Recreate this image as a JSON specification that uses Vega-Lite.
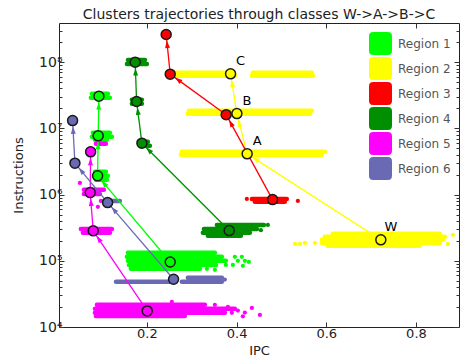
{
  "$schema": "https://vega.github.io/schema/vega-lite/v6.json",
  "width": 400,
  "height": 304,
  "autosize": {"type": "none"},
  "padding": {"left": 59, "top": 23, "right": 3, "bottom": 37},
  "title": {
    "text": "Clusters trajectories through classes W->A->B->C",
    "fontSize": 14,
    "fontWeight": "normal",
    "font": "DejaVu Sans",
    "color": "#222",
    "anchor": "middle",
    "baseline": "alphabetic",
    "offset": -10
  },
  "config": {
    "font": "DejaVu Sans",
    "view": {"stroke": "#222", "strokeWidth": 1}
  },
  "datasets": {
    "cent": [
      {"region": "Region 1", "cls": "W", "step": 0, "x": 0.252, "y": 96000},
      {"region": "Region 1", "cls": "A", "step": 1, "x": 0.0901, "y": 1920000},
      {"region": "Region 1", "cls": "B", "step": 2, "x": 0.0914, "y": 7700000},
      {"region": "Region 1", "cls": "C", "step": 3, "x": 0.093, "y": 30600000},
      {"region": "Region 2", "cls": "W", "step": 0, "x": 0.7217, "y": 207000},
      {"region": "Region 2", "cls": "A", "step": 1, "x": 0.4236, "y": 4120000},
      {"region": "Region 2", "cls": "B", "step": 2, "x": 0.4007, "y": 16700000},
      {"region": "Region 2", "cls": "C", "step": 3, "x": 0.3866, "y": 66500000},
      {"region": "Region 3", "cls": "W", "step": 0, "x": 0.4803, "y": 840000},
      {"region": "Region 3", "cls": "A", "step": 1, "x": 0.3768, "y": 16100000},
      {"region": "Region 3", "cls": "B", "step": 2, "x": 0.252, "y": 65900000},
      {"region": "Region 3", "cls": "C", "step": 3, "x": 0.243, "y": 261000000},
      {"region": "Region 4", "cls": "W", "step": 0, "x": 0.3835, "y": 286000},
      {"region": "Region 4", "cls": "A", "step": 1, "x": 0.1889, "y": 5970000},
      {"region": "Region 4", "cls": "B", "step": 2, "x": 0.177, "y": 25400000},
      {"region": "Region 4", "cls": "C", "step": 3, "x": 0.1739, "y": 100000000},
      {"region": "Region 5", "cls": "W", "step": 0, "x": 0.2007, "y": 17500},
      {"region": "Region 5", "cls": "A", "step": 1, "x": 0.0803, "y": 283000},
      {"region": "Region 5", "cls": "B", "step": 2, "x": 0.0736, "y": 1070000},
      {"region": "Region 5", "cls": "C", "step": 3, "x": 0.0745, "y": 4420000},
      {"region": "Region 6", "cls": "W", "step": 0, "x": 0.2595, "y": 52700},
      {"region": "Region 6", "cls": "A", "step": 1, "x": 0.1124, "y": 757000},
      {"region": "Region 6", "cls": "B", "step": 2, "x": 0.0395, "y": 2980000},
      {"region": "Region 6", "cls": "C", "step": 3, "x": 0.0343, "y": 13100000}
    ],
    "strands": [
      {"region": "Region 2", "x": 0.6147, "x2": 0.8533, "y": 255000},
      {"region": "Region 2", "x": 0.5969, "x2": 0.8644, "y": 230000},
      {"region": "Region 2", "x": 0.5902, "x2": 0.8599, "y": 207000},
      {"region": "Region 2", "x": 0.5902, "x2": 0.8533, "y": 186000},
      {"region": "Region 2", "x": 0.6036, "x2": 0.8087, "y": 168000},
      {"region": "Region 2", "x": 0.278, "x2": 0.5969, "y": 4420000},
      {"region": "Region 2", "x": 0.2758, "x2": 0.5902, "y": 3980000},
      {"region": "Region 2", "x": 0.2936, "x2": 0.5679, "y": 18400000},
      {"region": "Region 2", "x": 0.2914, "x2": 0.5634, "y": 16600000},
      {"region": "Region 2", "x": 0.2647, "x2": 0.3939, "y": 68900000},
      {"region": "Region 2", "x": 0.2624, "x2": 0.3962, "y": 62100000},
      {"region": "Region 2", "x": 0.4363, "x2": 0.5679, "y": 68900000},
      {"region": "Region 2", "x": 0.4341, "x2": 0.5701, "y": 62100000},
      {"region": "Region 3", "x": 0.4341, "x2": 0.5121, "y": 860000},
      {"region": "Region 3", "x": 0.4408, "x2": 0.5076, "y": 776000},
      {"region": "Region 4", "x": 0.3561, "x2": 0.4609, "y": 348000},
      {"region": "Region 4", "x": 0.3271, "x2": 0.4453, "y": 303000},
      {"region": "Region 4", "x": 0.3249, "x2": 0.4296, "y": 264000},
      {"region": "Region 4", "x": 0.336, "x2": 0.4096, "y": 238000},
      {"region": "Region 4", "x": 0.1822, "x2": 0.2022, "y": 6250000},
      {"region": "Region 4", "x": 0.1866, "x2": 0.2067, "y": 5450000},
      {"region": "Region 4", "x": 0.1666, "x2": 0.1888, "y": 27000000},
      {"region": "Region 4", "x": 0.1666, "x2": 0.1888, "y": 23500000},
      {"region": "Region 4", "x": 0.1577, "x2": 0.1956, "y": 108000000},
      {"region": "Region 4", "x": 0.1555, "x2": 0.2, "y": 94000000},
      {"region": "Region 1", "x": 0.1576, "x2": 0.3516, "y": 132000},
      {"region": "Region 1", "x": 0.1554, "x2": 0.3672, "y": 115000},
      {"region": "Region 1", "x": 0.1576, "x2": 0.3761, "y": 99700},
      {"region": "Region 1", "x": 0.1599, "x2": 0.3538, "y": 86700},
      {"region": "Region 1", "x": 0.1643, "x2": 0.3182, "y": 75500},
      {"region": "Region 1", "x": 0.0841, "x2": 0.1086, "y": 2210000},
      {"region": "Region 1", "x": 0.0818, "x2": 0.113, "y": 1920000},
      {"region": "Region 1", "x": 0.0863, "x2": 0.1108, "y": 1670000},
      {"region": "Region 1", "x": 0.0796, "x2": 0.1175, "y": 8550000},
      {"region": "Region 1", "x": 0.0774, "x2": 0.122, "y": 7440000},
      {"region": "Region 1", "x": 0.0841, "x2": 0.1108, "y": 6700000},
      {"region": "Region 1", "x": 0.0774, "x2": 0.113, "y": 33200000},
      {"region": "Region 1", "x": 0.0751, "x2": 0.1175, "y": 28900000},
      {"region": "Region 5", "x": 0.0886, "x2": 0.3293, "y": 21600},
      {"region": "Region 5", "x": 0.0841, "x2": 0.3962, "y": 18800},
      {"region": "Region 5", "x": 0.0841, "x2": 0.3739, "y": 16400},
      {"region": "Region 5", "x": 0.0863, "x2": 0.2847, "y": 14700},
      {"region": "Region 5", "x": 0.0528, "x2": 0.122, "y": 303000},
      {"region": "Region 5", "x": 0.0573, "x2": 0.1175, "y": 264000},
      {"region": "Region 5", "x": 0.0595, "x2": 0.1041, "y": 1180000},
      {"region": "Region 5", "x": 0.0595, "x2": 0.0952, "y": 1020000},
      {"region": "Region 5", "x": 0.0863, "x2": 0.1086, "y": 5840000},
      {"region": "Region 6", "x": 0.1311, "x2": 0.2513, "y": 48100},
      {"region": "Region 6", "x": 0.278, "x2": 0.3672, "y": 48100},
      {"region": "Region 6", "x": 0.2914, "x2": 0.3672, "y": 55200},
      {"region": "Region 6", "x": 0.1041, "x2": 0.1398, "y": 803000}
    ],
    "dots": [
      {"region": "Region 2", "x": 0.5302, "y": 180000},
      {"region": "Region 2", "x": 0.5413, "y": 180000},
      {"region": "Region 2", "x": 0.5523, "y": 186000},
      {"region": "Region 2", "x": 0.5745, "y": 186000},
      {"region": "Region 2", "x": 0.8823, "y": 247000},
      {"region": "Region 2", "x": 0.8711, "y": 180000},
      {"region": "Region 3", "x": 0.4229, "y": 860000},
      {"region": "Region 3", "x": 0.5367, "y": 803000},
      {"region": "Region 4", "x": 0.4698, "y": 348000},
      {"region": "Region 4", "x": 0.4542, "y": 290000},
      {"region": "Region 1", "x": 0.3962, "y": 115000},
      {"region": "Region 1", "x": 0.4118, "y": 115000},
      {"region": "Region 1", "x": 0.4029, "y": 99700},
      {"region": "Region 1", "x": 0.4185, "y": 99700},
      {"region": "Region 1", "x": 0.4274, "y": 96000},
      {"region": "Region 1", "x": 0.3761, "y": 86700},
      {"region": "Region 1", "x": 0.3917, "y": 86700},
      {"region": "Region 1", "x": 0.414, "y": 84000},
      {"region": "Region 1", "x": 0.3338, "y": 75500},
      {"region": "Region 1", "x": 0.3516, "y": 73000},
      {"region": "Region 5", "x": 0.3516, "y": 21600},
      {"region": "Region 5", "x": 0.3806, "y": 20100},
      {"region": "Region 5", "x": 0.4029, "y": 17700},
      {"region": "Region 5", "x": 0.4185, "y": 16500},
      {"region": "Region 5", "x": 0.4341, "y": 19400},
      {"region": "Region 5", "x": 0.452, "y": 15200},
      {"region": "Region 5", "x": 0.414, "y": 14500},
      {"region": "Region 5", "x": 0.3895, "y": 16400},
      {"region": "Region 5", "x": 0.2557, "y": 24000},
      {"region": "Region 5", "x": 0.0506, "y": 1500000},
      {"region": "Region 5", "x": 0.0907, "y": 652000},
      {"region": "Region 5", "x": 0.0974, "y": 803000},
      {"region": "Region 6", "x": 0.3739, "y": 52000}
    ]
  },
  "resolve": {"axis": {"x": "independent", "y": "independent"}},
  "layer": [
    {
      "description": "Scattered cluster members; this layer also carries the region legend",
      "data": {"name": "dots"},
      "mark": {"type": "point", "filled": true, "size": 18, "opacity": 1},
      "encoding": {
        "x": {"field": "x", "type": "quantitative",
          "scale": {"domain": [0.004, 0.896], "nice": false, "zero": false},
          "axis": {
            "orient": "bottom", "values": [0.2, 0.4, 0.6, 0.8], "format": ".1f",
            "title": "IPC", "titleFontSize": 13, "titleFontWeight": "normal", "titleColor": "#222", "titlePadding": 4,
            "labelFontSize": 13, "labelColor": "#222", "labelPadding": 5, "labelFlush": false,
            "tickSize": -5, "tickColor": "#333", "domain": false, "grid": false
          }},
        "y": {"field": "y", "type": "quantitative",
          "scale": {"type": "log", "domain": [10000, 390000000], "nice": false},
          "axis": {
            "orient": "left",
            "values": [10000, 20000, 30000, 40000, 50000, 60000, 70000, 80000, 90000,
                       100000, 200000, 300000, 400000, 500000, 600000, 700000, 800000, 900000,
                       1000000, 2000000, 3000000, 4000000, 5000000, 6000000, 7000000, 8000000, 9000000,
                       10000000, 20000000, 30000000, 40000000, 50000000, 60000000, 70000000, 80000000, 90000000,
                       100000000, 200000000, 300000000],
            "labelExpr": "abs(log(datum.value) / LN10 - round(log(datum.value) / LN10)) < 0.001 ? '10' + ['⁰','¹','²','³','⁴','⁵','⁶','⁷','⁸','⁹'][round(log(datum.value) / LN10)] : ''",
            "labelOverlap": false, "labelFlush": false,
            "title": "Instructions", "titleFontSize": 13, "titleFontWeight": "normal", "titleColor": "#222", "titlePadding": 13,
            "labelFontSize": 14, "labelColor": "#222", "labelPadding": 2,
            "tickSize": {"condition": {"test": "abs(log(datum.value) / LN10 - round(log(datum.value) / LN10)) < 0.001", "value": -5}, "value": -3},
            "tickColor": "#333", "domain": false, "grid": false
          }},
        "color": {"field": "region", "type": "nominal",
          "scale": {"domain": ["Region 1", "Region 2", "Region 3", "Region 4", "Region 5", "Region 6"],
                    "range": ["#00ff00", "#ffff00", "#ff0000", "#008f00", "#ff00ff", "#6a6ab4"]},
          "legend": {
            "orient": "none", "legendX": 310, "legendY": 9, "title": null, "padding": 0,
            "symbolType": "M-0.72,-1H0.72Q1,-1 1,-0.72V0.72Q1,1 0.72,1H-0.72Q-1,1 -1,0.72V-0.72Q-1,-1 -0.72,-1Z",
            "symbolSize": 484, "symbolStrokeColor": "#00000030", "symbolStrokeWidth": 1, "symbolOpacity": 1,
            "rowPadding": -3, "labelOffset": 6, "labelFontSize": 12, "labelColor": "#555", "labelFont": "DejaVu Sans"
          }}
      }
    },
    {
      "description": "Dense horizontal strands of cluster members",
      "data": {"name": "strands"},
      "mark": {"type": "rule", "strokeWidth": 4.5, "strokeCap": "round"},
      "encoding": {
        "x": {"field": "x", "type": "quantitative",
          "axis": {"orient": "top", "values": [0.2, 0.4, 0.6, 0.8], "labels": false, "title": null,
                   "tickSize": -5, "tickColor": "#333", "domain": false, "grid": false}},
        "x2": {"field": "x2"},
        "y": {"field": "y", "type": "quantitative",
          "axis": {
            "orient": "right", "labels": false, "title": null, "domain": false, "grid": false, "tickColor": "#333",
            "values": [10000, 20000, 30000, 40000, 50000, 60000, 70000, 80000, 90000,
                       100000, 200000, 300000, 400000, 500000, 600000, 700000, 800000, 900000,
                       1000000, 2000000, 3000000, 4000000, 5000000, 6000000, 7000000, 8000000, 9000000,
                       10000000, 20000000, 30000000, 40000000, 50000000, 60000000, 70000000, 80000000, 90000000,
                       100000000, 200000000, 300000000],
            "tickSize": {"condition": {"test": "abs(log(datum.value) / LN10 - round(log(datum.value) / LN10)) < 0.001", "value": -5}, "value": -3}
          }},
        "color": {"field": "region", "type": "nominal"}
      }
    },
    {
      "description": "Trajectory segments between consecutive class centroids",
      "data": {"name": "cent"},
      "transform": [
        {"window": [{"op": "lag", "field": "x", "as": "x0"}, {"op": "lag", "field": "y", "as": "y0"}],
         "groupby": ["region"], "sort": [{"field": "step", "order": "ascending"}]},
        {"filter": "datum.x0 != null"}
      ],
      "mark": {"type": "rule", "strokeWidth": 1.3},
      "encoding": {
        "x": {"field": "x0", "type": "quantitative", "axis": null},
        "y": {"field": "y0", "type": "quantitative", "axis": null},
        "x2": {"field": "x"},
        "y2": {"field": "y"},
        "color": {"field": "region", "type": "nominal"}
      }
    },
    {
      "description": "Arrow heads, turned along each segment in screen space",
      "data": {"name": "cent"},
      "transform": [
        {"window": [{"op": "lag", "field": "x", "as": "x0"}, {"op": "lag", "field": "y", "as": "y0"}],
         "groupby": ["region"], "sort": [{"field": "step", "order": "ascending"}]},
        {"filter": "datum.x0 != null"},
        {"calculate": "(datum.x - datum.x0) / 0.892 * 400", "as": "dx"},
        {"calculate": "log(datum.y / datum.y0) / LN10 / 4.591 * 304", "as": "dy"},
        {"calculate": "sqrt(datum.dx * datum.dx + datum.dy * datum.dy)", "as": "len"},
        {"calculate": "atan2(datum.dx, datum.dy) * 180 / PI", "as": "ang"},
        {"calculate": "datum.x - 10 * datum.dx / datum.len * 0.892 / 400", "as": "hx"},
        {"calculate": "datum.y * pow(10, -10 * datum.dy / datum.len * 4.591 / 304)", "as": "hy"}
      ],
      "mark": {"type": "point", "filled": true, "opacity": 1, "size": 64,
               "shape": "M0,-1L0.62,0.85L-0.62,0.85Z"},
      "encoding": {
        "x": {"field": "hx", "type": "quantitative", "axis": null},
        "y": {"field": "hy", "type": "quantitative", "axis": null},
        "angle": {"field": "ang", "type": "quantitative", "scale": null},
        "color": {"field": "region", "type": "nominal"}
      }
    },
    {
      "description": "Class centroids",
      "data": {"name": "cent"},
      "mark": {"type": "point", "filled": true, "size": 100, "opacity": 1, "stroke": "#1a1a1a", "strokeWidth": 1.5},
      "encoding": {
        "x": {"field": "x", "type": "quantitative", "axis": null},
        "y": {"field": "y", "type": "quantitative", "axis": null},
        "color": {"field": "region", "type": "nominal"}
      }
    },
    {
      "description": "Class names next to the Region 2 centroids",
      "data": {"name": "cent"},
      "transform": [{"filter": "datum.region == 'Region 2'"}],
      "mark": {"type": "text", "dx": 10, "dy": -13, "fontSize": 13, "color": "#000", "align": "center", "baseline": "middle"},
      "encoding": {
        "x": {"field": "x", "type": "quantitative", "axis": null},
        "y": {"field": "y", "type": "quantitative", "axis": null},
        "text": {"field": "cls"}
      }
    }
  ]
}
